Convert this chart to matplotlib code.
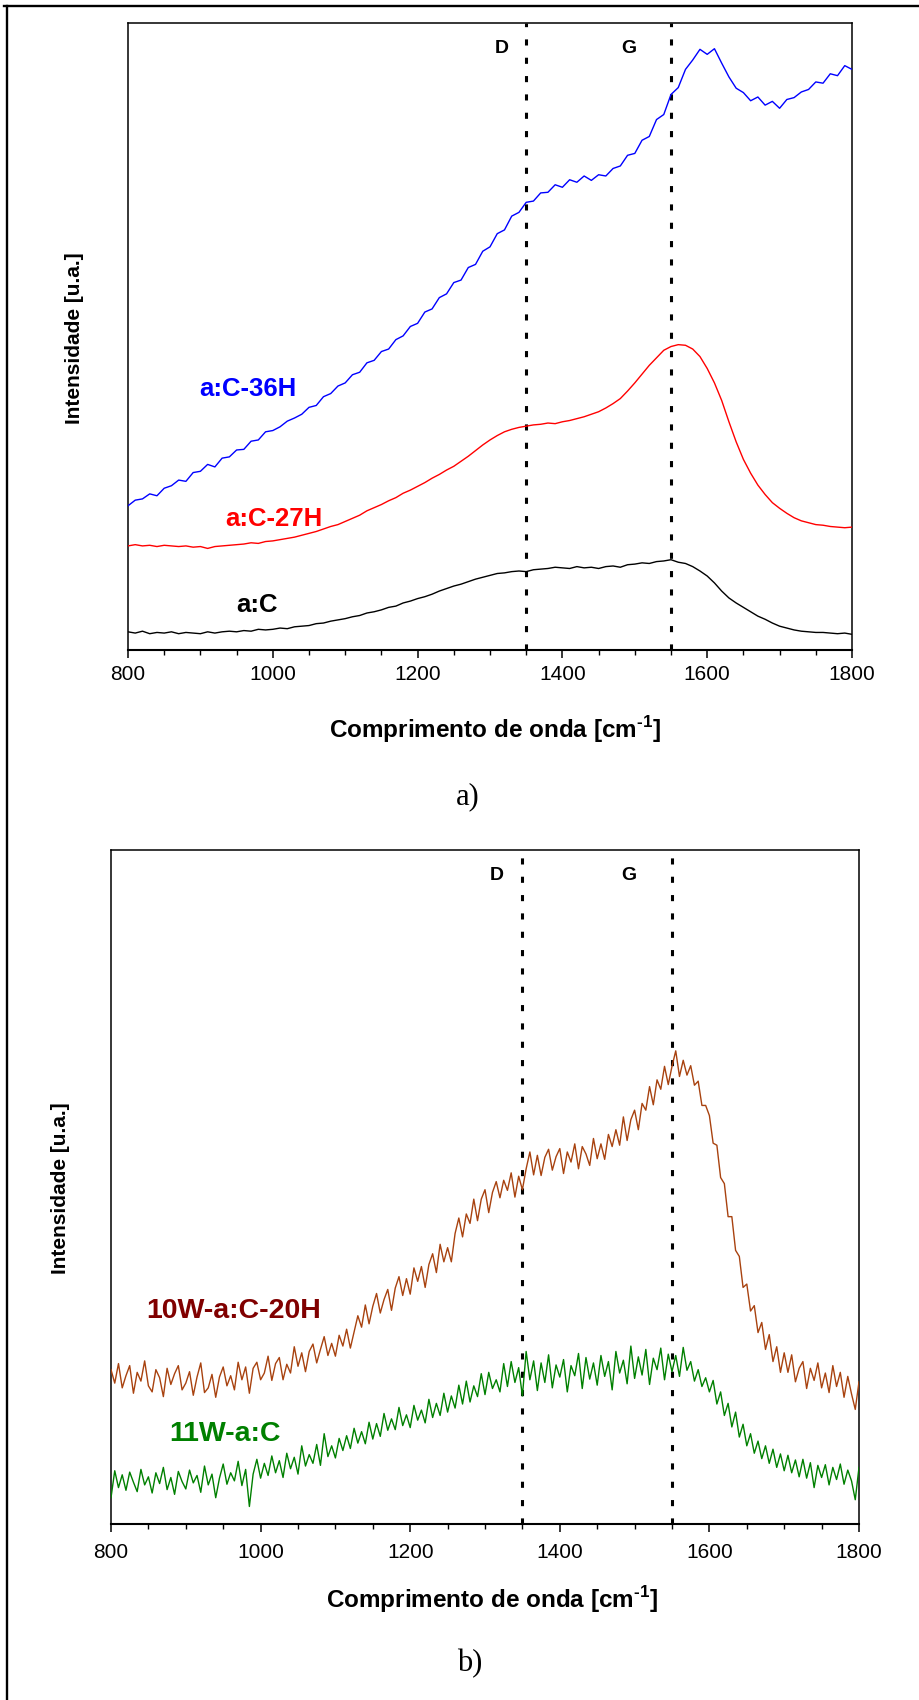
import numpy as np
import matplotlib
matplotlib.use('Agg')
import matplotlib.pyplot as plt
from matplotlib.lines import Line2D

plt.rcParams['font.family'] = ['Liberation Sans', 'DejaVu Sans']
plt.rcParams['mathtext.fontset'] = 'custom'
plt.rcParams['mathtext.rm'] = 'Liberation Sans:bold'
plt.rcParams['mathtext.bf'] = 'Liberation Sans:bold'

# ---------------- data ----------------
wavenumber_a = np.arange(800, 1801, 10)
wavenumber_b = np.arange(800, 1801, 5)

a_C_36H = [23.0, 23.9, 24.1, 24.9, 24.6, 25.8, 26.2, 27.1, 26.9, 28.3,
           28.5, 29.6, 29.2, 30.6, 30.8, 31.9, 32.0, 33.3, 33.5, 34.8,
           35.0, 35.6, 36.5, 37.0, 37.6, 38.7, 39.0, 40.4, 40.9, 42.1,
           42.6, 43.9, 44.3, 45.8, 46.2, 47.6, 48.0, 49.5, 50.1, 51.6,
           52.1, 53.9, 54.4, 56.2, 56.8, 58.6, 59.0, 61.0, 61.5, 63.6,
           64.3, 66.4, 67.0, 69.2, 69.8, 71.4, 71.6, 72.9, 73.0, 74.2,
           73.8, 75.0, 74.6, 75.6, 74.9, 75.8, 75.6, 76.8, 77.2, 78.9,
           79.2, 81.3, 81.9, 84.6, 85.4, 88.6, 89.7, 92.6, 94.1, 95.8,
           95.0, 95.9, 93.6, 91.4, 89.6, 88.9, 87.6, 88.2, 86.9, 87.5,
           86.4, 87.8, 88.1, 89.0, 89.4, 90.6, 90.4, 91.9, 91.6, 93.2,
           92.6]

a_C_27H = [16.6, 16.8, 16.6, 16.7, 16.5, 16.7, 16.6, 16.5, 16.6, 16.4,
           16.5, 16.2, 16.5, 16.6, 16.7, 16.8, 16.9, 17.1, 17.0, 17.3,
           17.4, 17.6, 17.8, 18.0, 18.3, 18.6, 18.9, 19.3, 19.7, 20.0,
           20.5, 21.0, 21.5, 22.2, 22.7, 23.2, 23.8, 24.3, 25.0, 25.5,
           26.1, 26.7, 27.4, 28.0, 28.7, 29.3, 30.1, 30.9, 31.8, 32.7,
           33.5, 34.2, 34.8, 35.2, 35.5, 35.7, 35.9, 36.0, 36.2, 36.1,
           36.4, 36.6, 36.9, 37.2, 37.6, 38.0, 38.6, 39.3, 40.1, 41.3,
           42.6, 44.0, 45.4, 46.6, 47.8, 48.4, 48.7, 48.6, 48.0, 46.8,
           44.9, 42.6, 39.8, 36.4, 33.2, 30.4, 28.2, 26.3, 24.8, 23.5,
           22.6, 21.8, 21.1, 20.6, 20.3, 20.0, 19.9, 19.7, 19.6, 19.5,
           19.6]

a_C = [2.9, 2.7, 3.0, 2.6, 2.8, 2.7, 2.9, 2.6, 2.8, 2.7,
       2.6, 2.9, 2.7, 2.9, 3.0, 2.9, 3.1, 3.0, 3.3, 3.2,
       3.3, 3.5, 3.4, 3.7, 3.8, 3.9, 4.2, 4.3, 4.6, 4.8,
       5.0, 5.3, 5.5, 5.9, 6.1, 6.4, 6.8, 7.0, 7.5, 7.8,
       8.2, 8.5, 8.9, 9.4, 9.8, 10.2, 10.5, 10.9, 11.3, 11.6,
       11.9, 12.2, 12.3, 12.5, 12.6, 12.5, 12.8, 12.9, 13.0, 13.2,
       13.1, 13.0, 13.3, 13.1, 13.2, 13.0, 13.3, 13.4, 13.2, 13.6,
       13.7, 13.9, 13.8, 14.1, 14.2, 14.4, 14.0, 13.8, 13.3, 12.6,
       11.8, 10.7, 9.4, 8.3, 7.5, 6.8, 6.1, 5.4, 4.9, 4.3,
       3.8, 3.5, 3.2, 3.0, 2.9, 2.8, 2.8, 2.7, 2.6, 2.7,
       2.5]

W10_a_C_20H = [
    22.9, 20.9, 23.8, 20.2, 22.0, 23.5, 19.4, 22.5, 21.2, 24.2,
    20.5, 19.6, 22.9, 21.7, 18.9, 23.1, 20.7, 22.3, 23.5, 19.9,
    20.9, 22.6, 19.1, 21.8, 23.9, 19.5, 20.2, 22.2, 18.8, 21.8,
    23.3, 20.5, 22.0, 19.9, 24.0, 21.4, 23.3, 19.4, 23.1, 24.0,
    21.4, 22.4, 24.9, 21.3, 23.8, 24.7, 21.4, 23.7, 22.4, 26.3,
    23.4, 25.4, 22.6, 25.6, 26.7, 23.9, 25.9, 27.8, 25.0, 26.8,
    24.9, 28.0, 26.4, 28.9, 26.1, 28.5, 30.9, 29.2, 32.5, 29.7,
    32.3, 34.2, 31.3, 33.3, 34.8, 31.7, 35.0, 36.7, 33.9, 36.4,
    34.1, 38.0, 36.0, 38.2, 35.1, 38.5, 40.1, 37.3, 41.5, 38.9,
    41.0, 38.9, 43.1, 45.4, 42.6, 46.0, 44.6, 48.2, 45.0, 48.2,
    49.6, 46.2, 49.2, 50.8, 48.4, 51.0, 49.5, 52.1, 48.5, 51.6,
    49.6, 52.7, 55.2, 51.8, 54.7, 51.7, 54.4, 55.6, 52.5, 54.5,
    55.7, 52.0, 55.2, 53.7, 56.4, 52.7, 56.0, 54.9, 53.2, 57.2,
    54.2, 56.4, 54.1, 57.8, 56.0, 58.5, 56.2, 60.4, 56.9, 60.0,
    61.4, 58.5, 62.4, 61.4, 64.9, 62.2, 65.9, 64.5, 67.9, 65.2,
    67.9, 70.2, 66.4, 68.8, 66.6, 68.0, 65.1, 65.7, 62.1, 62.1,
    60.6, 56.5, 56.2, 51.4, 50.5, 45.6, 45.6, 40.6, 39.7, 35.1,
    35.6, 31.6, 32.4, 28.4, 29.9, 25.9, 28.1, 24.1, 26.3, 22.5,
    25.4, 22.5, 25.1, 21.1, 23.1, 24.1, 20.1, 23.1, 21.3, 23.9,
    20.2, 22.4, 19.5, 23.5, 20.4, 22.5, 18.8, 21.9, 19.3, 17.0,
    21.1]

W11_a_C = [
    3.9, 7.9, 5.4, 7.3, 5.0, 7.7, 6.2, 4.8, 8.1, 5.8,
    7.0, 4.6, 7.6, 6.0, 8.4, 5.1, 6.9, 4.4, 7.8, 6.3,
    5.2, 8.0, 6.1, 7.2, 4.7, 8.6, 5.8, 7.4, 3.9, 6.8,
    8.9, 5.9, 7.6, 6.4, 9.3, 5.7, 8.1, 2.6, 7.4, 9.6,
    6.8, 9.0, 7.2, 10.1, 7.6, 9.4, 6.9, 10.5, 8.2, 9.9,
    7.4, 11.6, 8.6, 10.3, 9.0, 11.8, 8.7, 13.4, 10.0, 11.6,
    9.8, 12.7, 10.9, 13.1, 11.2, 14.2, 12.0, 13.7, 11.9, 15.1,
    12.6, 14.9, 13.0, 16.4, 13.9, 15.6, 14.0, 17.3, 14.6, 16.2,
    14.3, 17.6, 15.4, 16.9, 15.0, 18.5, 15.8, 17.9, 16.1, 19.4,
    16.6, 19.0, 17.2, 20.6, 17.8, 21.2, 18.1, 20.5, 18.9, 22.3,
    19.2, 22.5, 20.1, 21.4, 19.6, 23.8, 20.4, 24.1, 21.0, 23.2,
    19.0, 25.6, 21.4, 24.2, 19.8, 23.9, 21.0, 25.1, 20.2, 23.6,
    21.8, 24.4, 19.6, 23.5, 22.0, 25.3, 20.1, 24.7, 21.5, 23.9,
    20.6, 25.0, 21.9, 24.1, 19.9, 25.6, 22.4, 24.3, 20.8, 26.4,
    21.6, 24.8, 22.1, 25.9, 20.7, 24.6, 22.9, 26.1, 21.4, 25.2,
    22.6, 25.0, 21.9, 26.2, 22.8, 24.1, 21.2, 22.9, 20.4, 21.7,
    19.6, 21.3, 17.8, 19.6, 16.1, 17.9, 14.4, 16.6, 12.9, 14.8,
    11.6, 13.4, 10.5, 12.3, 9.7, 11.6, 9.0, 11.1, 8.4, 10.4,
    7.9, 10.2, 7.6, 9.5, 7.0, 9.6, 6.8, 9.1, 5.4, 8.7,
    6.9, 8.8, 5.8, 8.4, 6.6, 8.9, 5.9, 8.0, 6.4, 3.6,
    8.4]

band_positions = [1350, 1550]
band_labels = ['D', 'G']
band_label_x = [1316, 1492]
xticks = [800, 1000, 1200, 1400, 1600, 1800]

# ---------------- figure ----------------
W, H = 919, 1700
fig = plt.figure(figsize=(W / 100, H / 100), dpi=100)


def fx(px):
    return px / W


def fy(py):
    return 1 - py / H


# outer frame (top + left)
fig.add_artist(Line2D([fx(4), 1.0], [fy(6), fy(6)], color='black', lw=1.7,
                      transform=fig.transFigure))
fig.add_artist(Line2D([fx(7), fx(7)], [0.0, fy(6)], color='black', lw=1.7,
                      transform=fig.transFigure))

XLABEL = r'Comprimento de onda [cm$^{\text{-1}}$]'


def style_axes(ax, pad, label_y):
    ax.set_xlim(800, 1800)
    ax.set_ylim(0, 100)
    ax.set_xticks(xticks)
    ax.set_xticks(np.arange(800, 1801, 50), minor=True)
    ax.set_yticks([])
    ax.tick_params(axis='x', which='major', direction='out', length=6,
                   width=1.1, labelsize=15, pad=pad)
    ax.tick_params(axis='x', which='minor', direction='out', length=3.5,
                   width=1.0)
    for s in ['top', 'left', 'right']:
        ax.spines[s].set_linewidth(1.1)
    ax.spines['bottom'].set_linewidth(1.5)
    for x, lab, lx in zip(band_positions, band_labels, band_label_x):
        ax.axvline(x, color='black', lw=2.2, linestyle=(0, (2, 4)), zorder=1)
        ax.text(lx, label_y, lab, fontsize=14, fontweight='bold',
                ha='center', va='center')


# ---- panel a ----
ax1 = fig.add_axes([fx(128), fy(650), (852 - 128) / W, (650 - 23) / H])
ax1.plot(wavenumber_a, a_C_36H, color='#0000FF', lw=1.0, zorder=3)
ax1.plot(wavenumber_a, a_C_27H, color='#FF0000', lw=1.0, zorder=3)
ax1.plot(wavenumber_a, a_C, color='black', lw=1.0, zorder=3)
style_axes(ax1, pad=5, label_y=96.0)
ax1.text(966, 41.6, 'a:C-36H', color='#0000FF', fontsize=18.5,
         fontweight='bold', ha='center', va='center')
ax1.text(1002, 20.9, 'a:C-27H', color='#FF0000', fontsize=18.5,
         fontweight='bold', ha='center', va='center')
ax1.text(978, 7.1, 'a:C', color='black', fontsize=18.5,
         fontweight='bold', ha='center', va='center')

fig.text(fx(74), fy(338), 'Intensidade [u.a.]', rotation=90, fontsize=15,
         fontweight='bold', ha='center', va='center')
fig.text(fx(495), fy(730), XLABEL,
         fontsize=17.5, fontweight='bold', ha='center', va='center')
fig.text(fx(468), fy(797), 'a)', fontsize=22, family='Liberation Serif',
         ha='center', va='center')

# ---- panel b ----
ax2 = fig.add_axes([fx(111), fy(1524), (859 - 111) / W, (1524 - 850) / H])
ax2.plot(wavenumber_b, W10_a_C_20H, color='#A8420F', lw=1.0, zorder=3)
ax2.plot(wavenumber_b, W11_a_C, color='#008000', lw=1.0, zorder=3)
style_axes(ax2, pad=8, label_y=96.2)
ax2.text(964, 31.6, '10W-a:C-20H', color='#800000', fontsize=20.5,
         fontweight='bold', ha='center', va='center')
ax2.text(952, 13.4, '11W-a:C', color='#008000', fontsize=20.5,
         fontweight='bold', ha='center', va='center')

fig.text(fx(60), fy(1188), 'Intensidade [u.a.]', rotation=90, fontsize=15,
         fontweight='bold', ha='center', va='center')
fig.text(fx(492), fy(1600), XLABEL,
         fontsize=17.5, fontweight='bold', ha='center', va='center')
fig.text(fx(470), fy(1664), 'b)', fontsize=22, family='Liberation Serif',
         ha='center', va='center')

fig.savefig('out.png', dpi=100)
